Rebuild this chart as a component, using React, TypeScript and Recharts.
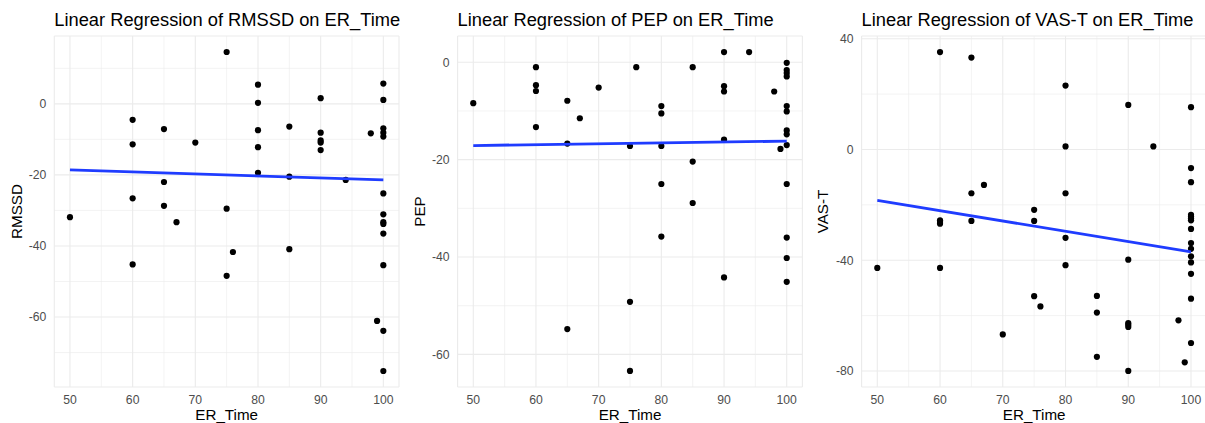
import React from 'react';
import { ScatterChart, Scatter, XAxis, YAxis, CartesianGrid, ReferenceLine } from 'recharts';

// ---------- data ----------
const erTicks = [50, 60, 70, 80, 90, 100];
const erMinor = [55, 65, 75, 85, 95];

const rmssdEr = [50, 60, 60, 60, 60, 65, 65, 65, 67, 70, 75, 75, 75, 76, 80, 80, 80, 80, 80, 85, 85, 85, 90, 90, 90, 90, 90, 94, 98, 99, 100, 100, 100, 100, 100, 100, 100, 100, 100, 100, 100, 100, 100];
const rmssdVal = [-31.9, -4.5, -11.4, -26.6, -45.2, -7.1, -22.0, -28.7, -33.3, -10.9, 14.6, -29.5, -48.4, -41.7, 5.4, 0.3, -7.4, -12.2, -19.4, -6.4, -20.5, -40.9, 1.6, -8.1, -10.3, -10.9, -13.0, -21.4, -8.3, -61.1, 5.7, 1.1, -6.9, -8.1, -9.2, -25.2, -31.1, -33.3, -33.8, -36.5, -45.4, -63.9, -75.2];
const rmssdFitEr = [50, 100];
const rmssdFitVal = [-18.6, -21.4];
const rmssdTicks = [-60, -40, -20, 0];
const rmssdMinor = [-70, -50, -30, -10, 10];

const pepEr = [50, 60, 60, 60, 60, 65, 65, 65, 67, 70, 75, 75, 75, 76, 80, 80, 80, 80, 80, 85, 85, 85, 90, 90, 90, 90, 90, 94, 98, 99, 100, 100, 100, 100, 100, 100, 100, 100, 100, 100, 100, 100, 100];
const pepVal = [-8.4, -1.0, -4.7, -5.9, -13.3, -7.9, -16.7, -54.8, -11.5, -5.2, -17.2, -49.2, -63.4, -1.0, -9.0, -10.5, -17.2, -25.0, -35.8, -1.0, -20.4, -28.9, 2.1, -4.9, -6.0, -15.9, -44.2, 2.1, -6.0, -17.8, -0.1, -1.6, -2.2, -2.9, -9.0, -10.1, -14.0, -14.8, -17.0, -25.0, -36.0, -40.2, -45.1];
const pepFitEr = [50, 100];
const pepFitVal = [-17.1, -16.2];
const pepTicks = [-60, -40, -20, 0];
const pepMinor = [-50, -30, -10];

const vasEr = [50, 60, 60, 60, 60, 60, 65, 65, 65, 67, 70, 75, 75, 75, 76, 80, 80, 80, 80, 80, 85, 85, 85, 90, 90, 90, 90, 90, 90, 94, 98, 99, 100, 100, 100, 100, 100, 100, 100, 100, 100, 100, 100, 100, 100, 100, 100];
const vasVal = [-42.8, 35.2, -25.6, -26.2, -26.8, -42.8, 33.2, -15.8, -25.8, -12.8, -66.8, -21.8, -25.8, -53.0, -56.7, 23.1, 1.1, -15.8, -31.9, -41.8, -52.9, -58.9, -74.9, 16.1, -39.8, -62.7, -63.3, -64.1, -80.0, 1.1, -61.7, -76.9, 15.3, -6.7, -11.8, -23.6, -24.2, -24.8, -25.6, -28.7, -33.8, -35.9, -38.6, -40.8, -44.9, -53.9, -69.9];
const vasFitEr = [50, 100];
const vasFitVal = [-18.4, -37.0];
const vasTicks = [-80, -40, 0, 40];
const vasMinor = [-60, -20, 20];

// ---------- styles ----------
const FONT = '"Liberation Sans", Arial, Helvetica, sans-serif';
const GRID = '#ebebeb';
const BLUE = '#1f3cff';

const zip = (xs: number[], ys: number[]) => xs.map((x, i) => ({ x, y: ys[i] }));

const Dot = (p: any) => <circle cx={p.cx} cy={p.cy} r={3.1} fill="#000" />;
const NoDot = () => <g />;

type PanelProps = {
  left: number;
  width: number;
  yAxisWidth: number;
  marginRight: number;
  title: string;
  yLabel: string;
  er: number[];
  val: number[];
  fitEr: number[];
  fitVal: number[];
  yTicks: number[];
  yMinor: number[];
  yDomain: [number, number];
};

function Panel(props: PanelProps) {
  const { left, width, yAxisWidth, marginRight, title, yLabel, er, val, fitEr, fitVal, yTicks, yMinor, yDomain } = props;
  const pts = zip(er, val);
  const fit = zip(fitEr, fitVal);
  return (
    <div style={{ position: 'absolute', left, top: 0, width, height: 423 }}>
      <div
        style={{
          position: 'absolute',
          left: yAxisWidth,
          top: 10.6,
          fontFamily: FONT,
          fontSize: 18.3,
          lineHeight: '18.3px',
          color: '#000',
          whiteSpace: 'nowrap',
        }}
      >
        {title}
      </div>
      <ScatterChart width={width} height={423} margin={{ top: 36, right: marginRight, bottom: 0, left: 0 }}>
        <CartesianGrid stroke={GRID} strokeWidth={1.1} />
        {erMinor.map((v) => (
          <ReferenceLine key={'mx' + v} x={v} stroke={GRID} strokeWidth={0.6} />
        ))}
        {yMinor.map((v) => (
          <ReferenceLine key={'my' + v} y={v} stroke={GRID} strokeWidth={0.6} />
        ))}
        <XAxis
          type="number"
          dataKey="x"
          domain={[47.5, 102.5]}
          ticks={erTicks}
          allowDataOverflow
          axisLine={false}
          tickLine={false}
          tickSize={0}
          tickMargin={8}
          height={36}
          tick={{ fill: '#4d4d4d', fontSize: 12.2, fontFamily: FONT }}
          label={{ value: 'ER_Time', position: 'insideBottom', offset: 3, fill: '#000', fontSize: 15.2, fontFamily: FONT }}
        />
        <YAxis
          type="number"
          dataKey="y"
          domain={yDomain}
          ticks={yTicks}
          allowDataOverflow
          axisLine={false}
          tickLine={false}
          tickSize={0}
          tickMargin={8}
          width={yAxisWidth}
          tick={{ fill: '#4d4d4d', fontSize: 12.2, fontFamily: FONT }}
          label={{
            value: yLabel,
            angle: -90,
            position: 'insideLeft',
            offset: 16.5,
            fill: '#000',
            fontSize: 15.2,
            fontFamily: FONT,
            style: { textAnchor: 'middle' },
          }}
        />
        <Scatter data={pts} shape={Dot} isAnimationActive={false} />
        <Scatter
          data={fit}
          shape={NoDot}
          line={{ stroke: BLUE, strokeWidth: 2.8 }}
          lineType="joint"
          isAnimationActive={false}
        />
      </ScatterChart>
    </div>
  );
}

export default function App() {
  return (
    <div style={{ position: 'absolute', left: 0, top: 0, width: 1205, height: 423, overflow: 'hidden', background: '#fff' }}>
      <Panel
        left={0}
        width={403}
        yAxisWidth={54.3}
        marginRight={4}
        title="Linear Regression of RMSSD on ER_Time"
        yLabel="RMSSD"
        er={rmssdEr}
        val={rmssdVal}
        fitEr={rmssdFitEr}
        fitVal={rmssdFitVal}
        yTicks={rmssdTicks}
        yMinor={rmssdMinor}
        yDomain={[-79.7, 19.1]}
      />
      <Panel
        left={403}
        width={403}
        yAxisWidth={54.6}
        marginRight={3.6}
        title="Linear Regression of PEP on ER_Time"
        yLabel="PEP"
        er={pepEr}
        val={pepVal}
        fitEr={pepFitEr}
        fitVal={pepFitVal}
        yTicks={pepTicks}
        yMinor={pepMinor}
        yDomain={[-66.7, 5.4]}
      />
      <Panel
        left={806}
        width={404}
        yAxisWidth={55.6}
        marginRight={3.3}
        title="Linear Regression of VAS-T on ER_Time"
        yLabel="VAS-T"
        er={vasEr}
        val={vasVal}
        fitEr={vasFitEr}
        fitVal={vasFitVal}
        yTicks={vasTicks}
        yMinor={vasMinor}
        yDomain={[-85.8, 41]}
      />
    </div>
  );
}
